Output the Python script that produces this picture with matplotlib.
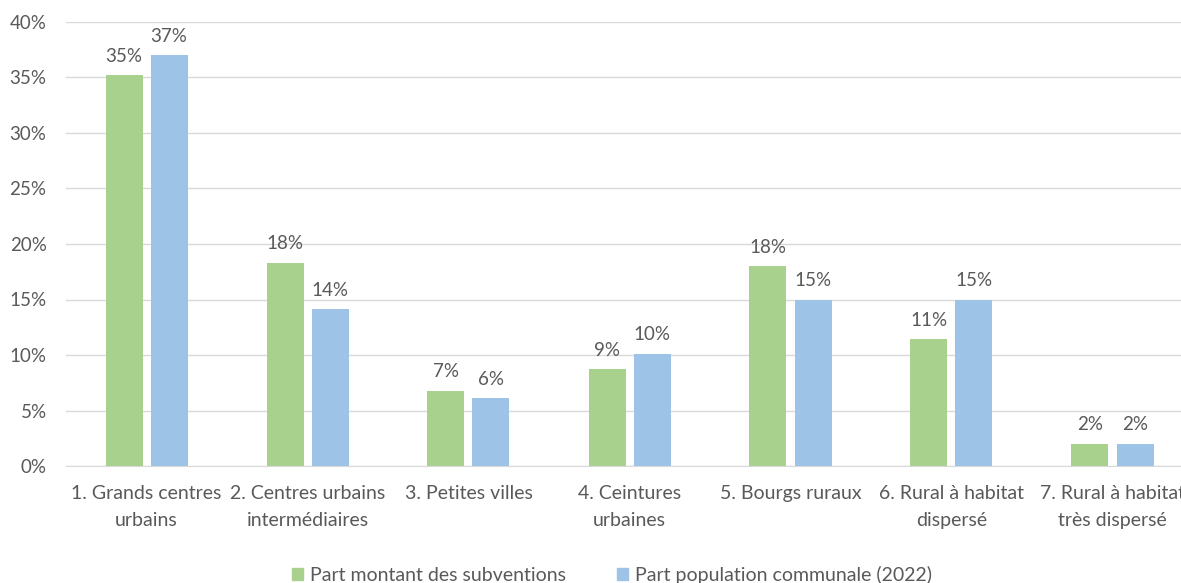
import matplotlib
matplotlib.use("Agg")
import matplotlib.pyplot as plt
import numpy as np
from matplotlib.ticker import FuncFormatter, MultipleLocator
from matplotlib.patches import Patch

categories = ["1. Grands centres\nurbains", "2. Centres urbains\nintermédiaires",
              "3. Petites villes", "4. Ceintures\nurbaines", "5. Bourgs ruraux",
              "6. Rural à habitat\ndispersé", "7. Rural à habitat\ntrès dispersé"]
subventions = [35.2, 18.3, 6.8, 8.7, 18.0, 11.4, 2.0]
population = [37.0, 14.1, 6.1, 10.1, 15.0, 15.0, 2.0]
series_names = ["Part montant des subventions", "Part population communale (2022)"]

green = "#A9D18E"
blue = "#9DC3E6"
txt = "#595959"

plt.rcParams['font.family'] = ['Lato', 'DejaVu Sans']

fig = plt.figure(figsize=(11.81, 5.83), dpi=100)
W, H = 1181, 583
ax = fig.add_axes([66 / W, (583 - 466) / H, 1127 / W, 444 / H])

x = np.arange(len(categories))
bw = 37 / 161
off = 22.5 / 161
b1 = ax.bar(x - off, subventions, bw, color=green)
b2 = ax.bar(x + off, population, bw, color=blue)

for bars, vals in ((b1, subventions), (b2, population)):
    for r, v in zip(bars, vals):
        ax.annotate(f"{round(v):.0f}%", (r.get_x() + r.get_width() / 2, v),
                    xytext=(0, 7.5), textcoords="offset points", ha="center", va="bottom",
                    fontsize=13.5, color=txt)

ax.set_xlim(-0.5, len(categories) - 0.5)
ax.set_ylim(0, 40)
ax.yaxis.set_major_locator(MultipleLocator(5))
ax.yaxis.set_major_formatter(FuncFormatter(lambda v, p: f"{v:.0f}%"))
ax.grid(axis="y", color="#D9D9D9", linewidth=1)
ax.set_axisbelow(True)
for s in ["top", "right", "left"]:
    ax.spines[s].set_visible(False)
ax.spines["bottom"].set_color("#D9D9D9")
ax.tick_params(axis="both", length=0, colors=txt)
ax.tick_params(axis="y", pad=14, labelsize=13.5)
ax.tick_params(axis="x", pad=14, labelsize=14)
ax.set_xticks(x)
ax.set_xticklabels(categories, linespacing=1.65)

handles = [Patch(color=green), Patch(color=blue)]
fig.legend(handles, series_names, loc="center", bbox_to_anchor=(612 / W, (583 - 575) / H),
           ncol=2, frameon=False, fontsize=14, labelcolor=txt, handlelength=0.6,
           handleheight=0.6, handletextpad=0.35, columnspacing=2.6)

fig.savefig("out.png", dpi=100)
